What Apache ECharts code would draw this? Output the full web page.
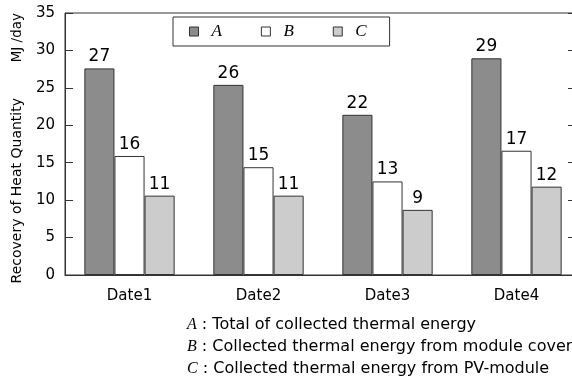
<!DOCTYPE html>
<html><head><meta charset="utf-8">
<script src="https://cdn.jsdelivr.net/npm/echarts@6/dist/echarts.min.js"></script>
<style>html,body{margin:0;padding:0;background:#fff}#c{width:572px;height:378px}</style>
</head><body><div id="c"></div>
<script>
var categories = ['Date1', 'Date2', 'Date3', 'Date4'];
var seriesNames = ['A', 'B', 'C'];
var valuesA = [27.6, 25.4, 21.4, 28.95];
var valuesB = [15.9, 14.4, 12.5, 16.6];
var valuesC = [10.6, 10.6, 8.7, 11.8];
var labelsA = ['27', '26', '22', '29'];
var labelsB = ['16', '15', '13', '17'];
var labelsC = ['11', '11', '9', '12'];
var yTicks = [0, 5, 10, 15, 20, 25, 30, 35];
var notes = [
  ['A', 'Total of collected thermal energy'],
  ['B', 'Collected thermal energy from module cover'],
  ['C', 'Collected thermal energy from PV-module']
];

var colors = ['#8c8c8c', '#ffffff', '#cccccc'];
var font = 'DejaVu Sans, sans-serif';
var serif = 'Liberation Serif, Times New Roman, serif';

function mkSeries(name, data, labels, color) {
  return {
    name: name, type: 'bar', data: data, barGap: '0%', barCategoryGap: '30%',
    itemStyle: { color: color, borderColor: '#333', borderWidth: 1 },
    label: { show: true, position: 'top', distance: 3, color: '#000', fontSize: 17, fontFamily: font,
      formatter: function (p) { return labels[p.dataIndex]; } },
    animation: false
  };
}

var graphics = [
  { type: 'text', left: 10, top: 98, rotation: Math.PI / 2,
    style: { text: 'Recovery of Heat Quantity', font: '14px ' + font, fill: '#000' } },
  { type: 'text', left: 10, top: 13, rotation: Math.PI / 2,
    style: { text: 'MJ /day', font: '13.5px ' + font, fill: '#000' } }
];
notes.forEach(function (n, i) {
  graphics.push({ type: 'text', x: 187, y: 325 + i * 22,
    style: { x: 0, y: 0, verticalAlign: 'middle',
             rich: { i: { fontFamily: serif, fontStyle: 'italic', fontSize: 16, fill: '#000' },
                     t: { fontFamily: font, fontSize: 16, fill: '#000' } },
             text: '{i|' + n[0] + '}{t| : ' + n[1] + '}' } });
});

var chart = echarts.init(document.getElementById('c'));
chart.setOption({
  animation: false,
  backgroundColor: '#fff',
  grid: { left: 65, width: 516, top: 13, height: 262, outerBoundsMode: 'none', containLabel: false,
    show: true, borderColor: '#333', borderWidth: 1, backgroundColor: 'transparent' },
  legend: {
    data: seriesNames, left: 173, top: 17, orient: 'horizontal',
    itemWidth: 9, itemHeight: 9, itemGap: 39,
    padding: [6, 23, 6, 16], borderColor: '#333', borderWidth: 1,
    textStyle: { fontFamily: serif, fontStyle: 'italic', fontSize: 17, color: '#000', padding: [0, 0, 0, 8] },
    icon: 'rect',
    itemStyle: { borderColor: '#333', borderWidth: 1 }
  },
  xAxis: {
    type: 'category', data: categories,
    axisLine: { lineStyle: { color: '#333' } }, axisTick: { show: false },
    axisLabel: { color: '#000', fontSize: 15, fontFamily: font, margin: 14 }
  },
  yAxis: [{
    type: 'value', min: 0, max: 35, interval: 5,
    axisLine: { show: true, lineStyle: { color: '#333' } },
    axisTick: { show: true, inside: true, length: 8, lineStyle: { color: '#333' } },
    axisLabel: { color: '#000', fontSize: 15, fontFamily: font, margin: 10,
      formatter: function (v) { return yTicks.indexOf(v) >= 0 ? String(v) : ''; } },
    splitLine: { show: false }
  }, {
    type: 'value', min: 0, max: 35, interval: 5, position: 'right',
    axisLine: { show: false },
    axisTick: { show: true, inside: true, length: 13, lineStyle: { color: '#333' } },
    axisLabel: { show: false }, splitLine: { show: false }
  }],
  series: [
    mkSeries('A', valuesA, labelsA, colors[0]),
    mkSeries('B', valuesB, labelsB, colors[1]),
    mkSeries('C', valuesC, labelsC, colors[2])
  ],
  graphic: graphics
});
</script></body></html>
